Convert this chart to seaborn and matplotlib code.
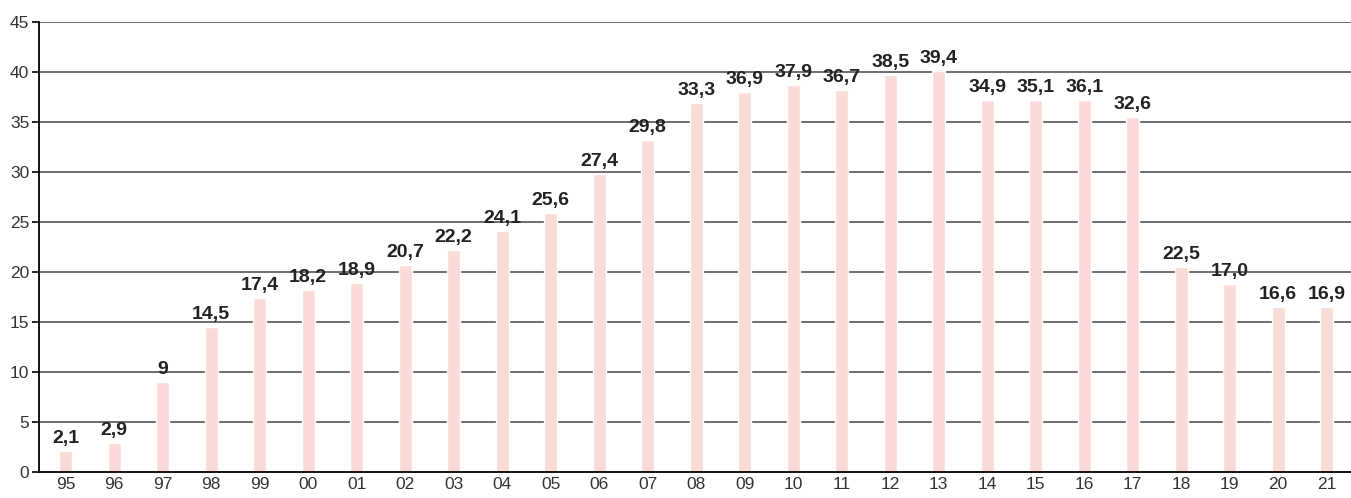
import matplotlib
matplotlib.use("Agg")
import matplotlib.pyplot as plt
import seaborn as sns
import numpy as np

## Data (bar heights and printed labels differ in the original)
years = ['95', '96', '97', '98', '99', '00', '01', '02', '03', '04', '05', '06', '07', '08',
         '09', '10', '11', '12', '13', '14', '15', '16', '17', '18', '19', '20', '21']
bar_values = [2.1, 2.9, 9.0, 14.5, 17.4, 18.2, 18.9, 20.7, 22.2, 24.1, 25.9, 29.8, 33.2, 36.9,
              38.0, 38.7, 38.2, 39.7, 40.1, 37.2, 37.2, 37.2, 35.5, 20.5, 18.8, 16.5, 16.5]
bar_labels = ['2,1', '2,9', '9', '14,5', '17,4', '18,2', '18,9', '20,7', '22,2', '24,1', '25,6',
              '27,4', '29,8', '33,3', '36,9', '37,9', '36,7', '38,5', '39,4', '34,9', '35,1',
              '36,1', '32,6', '22,5', '17,0', '16,6', '16,9']
y_ticks = [0, 5, 10, 15, 20, 25, 30, 35, 40, 45]

sns.set_style('white')
plt.rcParams['font.family'] = ['Liberation Sans', 'DejaVu Sans']

fig = plt.figure(figsize=(13.51, 4.98), dpi=100)
ax = fig.add_axes([0.0289, 0.0528, 0.9711, 0.9036])

# gridlines behind bars
for v in y_ticks[1:]:
    ax.axhline(v, color='#555555', lw=1.2, zorder=0)

sns.barplot(x=years, y=bar_values, color='#fadbd8', width=0.27, saturation=1,
            ax=ax, zorder=2)

for patch, txt in zip(ax.patches, bar_labels):
    ax.annotate(txt, (patch.get_x() + patch.get_width() / 2, patch.get_height()),
                xytext=(0, 3), textcoords='offset points', ha='center', va='bottom',
                fontsize=14, fontweight='bold', color='#222222', zorder=3)

ax.set_xlim(-0.55, 26.5)
ax.set_ylim(0, 45)
ax.set_yticks(y_ticks)
ax.set_yticklabels([str(v) for v in y_ticks])
ax.set_xlabel('')
ax.set_ylabel('')

# major x ticks without marks, minor ticks at category boundaries
ax.tick_params(axis='x', which='major', length=0, pad=4, labelsize=12.5, labelcolor='#333333')
ax.set_xticks(np.arange(-0.5, 26.5, 1), minor=True)
ax.tick_params(axis='x', which='minor', length=5, width=1.2, color='black', direction='out')
ax.tick_params(axis='y', length=5, width=1.2, color='black', direction='out', pad=2,
               labelsize=12.5, labelcolor='#333333')
ax.tick_params(bottom=True, left=True)

for side in ['top', 'right']:
    ax.spines[side].set_visible(False)
for side in ['left', 'bottom']:
    ax.spines[side].set_color('black')
    ax.spines[side].set_linewidth(1.3)

fig.savefig('out.png', dpi=100)
